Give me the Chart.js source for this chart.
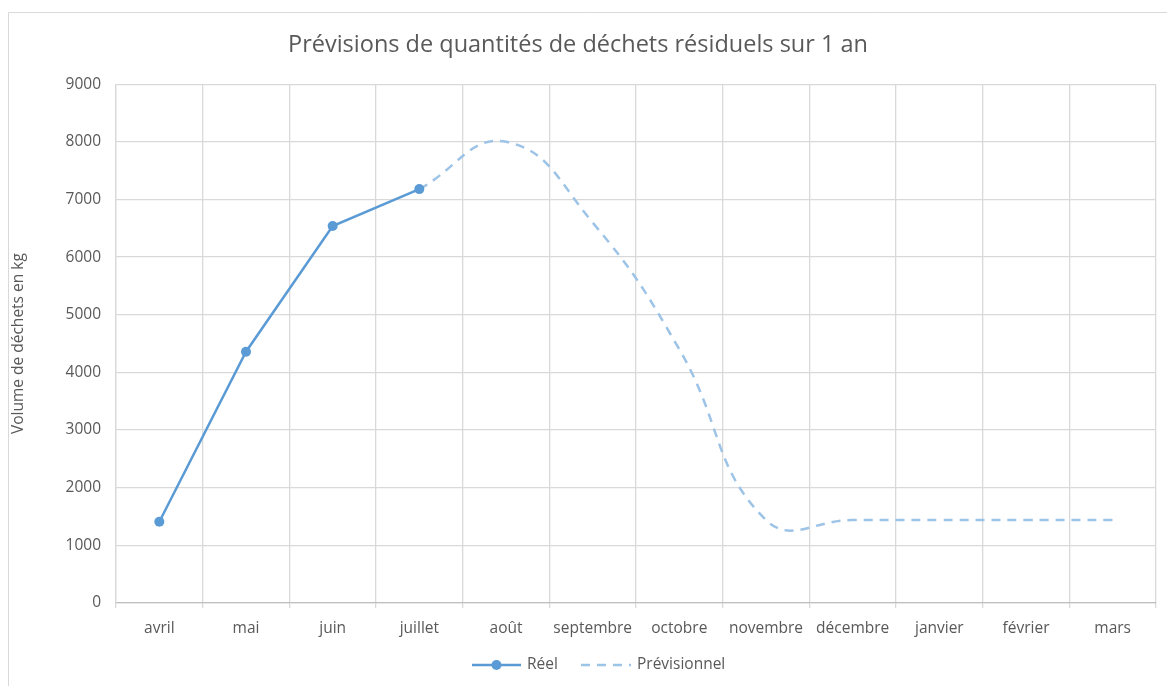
<!DOCTYPE html>
<html>
<head>
<meta charset="utf-8">
<script src="https://cdn.jsdelivr.net/npm/chart.js@4"></script>
<style>
  html, body { margin: 0; padding: 0; background: #fff; }
  #wrap { width: 1167px; height: 686px; }
</style>
</head>
<body>
<div id="wrap"><canvas id="chart" width="1167" height="686"></canvas></div>
<script>
// Données
const months = ['avril', 'mai', 'juin', 'juillet', 'août', 'septembre', 'octobre', 'novembre', 'décembre', 'janvier', 'février', 'mars'];
const reel = [1410, 4360, 6540, 7180, null, null, null, null, null, null, null, null];
const previsionnel = [null, null, null, 7180, 8000, 6600, 4400, 1440, 1440, 1440, 1440, 1440];
const yTicks = [0, 9000, 1000]; // min, max, pas

const grey = '#595959';
const gridGrey = '#D9D9D9';
const fontFam = '"Open Sans", Lato, sans-serif';

// Cadre et légende dessinés à la main (style Excel)
const excelDecor = {
  id: 'excelDecor',
  afterDraw(chart) {
    const ctx = chart.ctx;
    ctx.save();
    // cadre extérieur
    ctx.strokeStyle = gridGrey;
    ctx.lineWidth = 1;
    ctx.beginPath();
    ctx.moveTo(8.5, 686);
    ctx.lineTo(8.5, 12.5);
    ctx.lineTo(1167, 12.5);
    ctx.stroke();

    // légende
    const y = 665;
    ctx.lineWidth = 2.5;
    ctx.strokeStyle = '#5B9BD5';
    ctx.beginPath();
    ctx.moveTo(472, y);
    ctx.lineTo(521, y);
    ctx.stroke();
    ctx.fillStyle = '#5B9BD5';
    ctx.beginPath();
    ctx.arc(496.5, y, 5, 0, Math.PI * 2);
    ctx.fill();

    ctx.strokeStyle = '#9DC3E6';
    ctx.setLineDash([9, 7]);
    ctx.beginPath();
    ctx.moveTo(581, y);
    ctx.lineTo(631, y);
    ctx.stroke();
    ctx.setLineDash([]);

    ctx.fillStyle = grey;
    ctx.font = '15.5px ' + fontFam;
    ctx.textBaseline = 'middle';
    ctx.fillText(chart.data.datasets[0].label, 527, y);
    ctx.fillText(chart.data.datasets[1].label, 637, y);
    ctx.restore();
  }
};

new Chart(document.getElementById('chart'), {
  type: 'line',
  data: {
    labels: months,
    datasets: [{
      label: 'Réel',
      data: reel,
      borderColor: '#5B9BD5',
      backgroundColor: '#5B9BD5',
      borderWidth: 2.5,
      pointRadius: 5,
      pointHoverRadius: 5,
      pointBorderWidth: 0,
      tension: 0
    }, {
      label: 'Prévisionnel',
      data: previsionnel,
      borderColor: '#9DC3E6',
      backgroundColor: '#9DC3E6',
      borderWidth: 2.5,
      borderDash: [9, 7],
      pointRadius: 0,
      tension: 0.45
    }]
  },
  options: {
    responsive: false,
    animation: false,
    layout: { padding: { left: 0, right: 11, top: 0, bottom: 43 } },
    plugins: {
      legend: { display: false },
      tooltip: { enabled: false },
      title: {
        display: true,
        text: 'Prévisions de quantités de déchets résiduels sur 1 an',
        color: grey,
        font: { family: fontFam, size: 23.5, weight: 'normal' },
        padding: { top: 31, bottom: 25 }
      }
    },
    scales: {
      x: {
        offset: true,
        grid: { color: gridGrey, offset: true, tickLength: 5, lineWidth: 1.3 },
        border: { color: '#BFBFBF', width: 1.3 },
        ticks: { color: grey, font: { family: fontFam, size: 15.5 }, padding: 11, maxRotation: 0, autoSkip: false },
        afterFit(s) { s.height = 40; }
      },
      y: {
        min: yTicks[0],
        max: yTicks[1],
        ticks: {
          stepSize: yTicks[2],
          color: grey,
          font: { family: fontFam, size: 15.5 },
          padding: 15,
          callback: v => String(v)
        },
        grid: { color: gridGrey, drawTicks: false, lineWidth: 1.3 },
        border: { color: gridGrey, width: 1.3 },
        title: {
          display: true,
          text: 'Volume de déchets en kg',
          color: grey,
          font: { family: fontFam, size: 15.5 },
          padding: { top: 9, bottom: 0 }
        },
        afterFit(s) { s.width = 116; }
      }
    }
  },
  plugins: [excelDecor]
});
</script>
</body>
</html>
